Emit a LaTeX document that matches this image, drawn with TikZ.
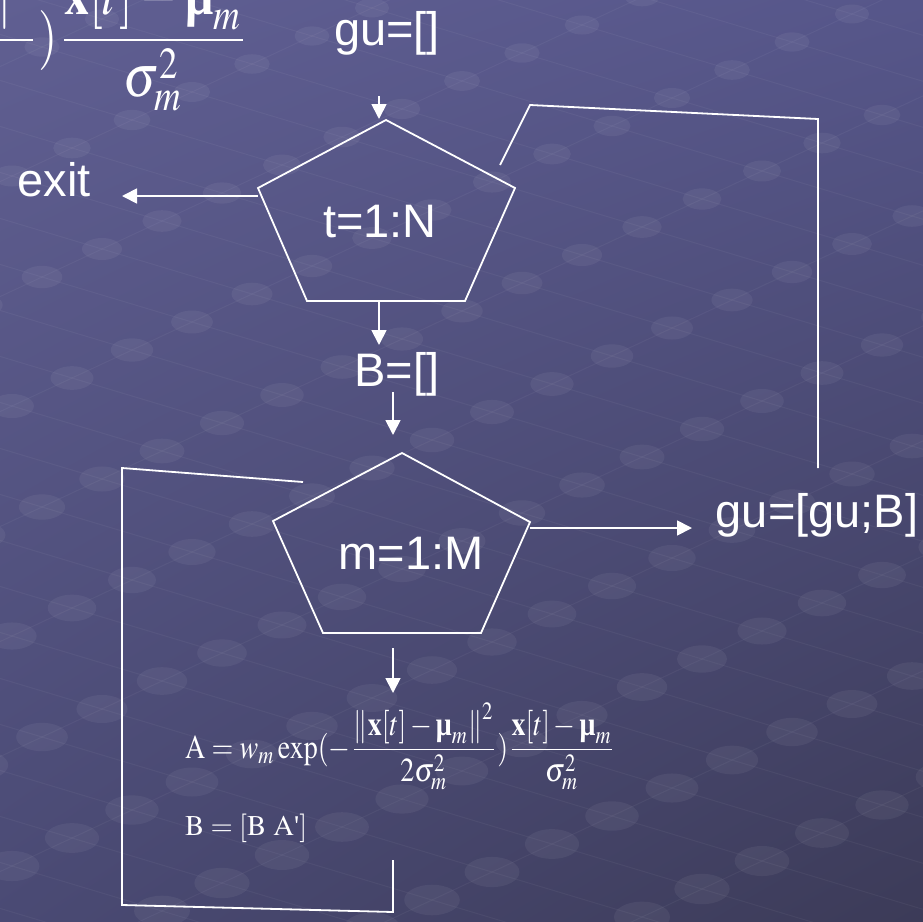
\documentclass[tikz,border=0pt]{standalone}
\usepackage{mathptmx}
\usepackage{fontspec}
\setmainfont{Liberation Serif}
\newfontfamily\labelfont{Liberation Sans}
\usetikzlibrary{arrows.meta,shadings}
\definecolor{bgUL}{HTML}{605F92}
\definecolor{bgUR}{HTML}{56568A}
\definecolor{bgLL}{HTML}{4A4A74}
\definecolor{bgLR}{HTML}{3C3B58}
\newcommand\bmu{\mbox{\normalfont\bfseries μ}}
\newcommand\myformula{$\displaystyle \mathrm{A} = w_m \exp(-\frac{\left\|\mathbf{x}[t]-\bmu_m\right\|^2}{2\sigma_m^2})\frac{\mathbf{x}[t]-\bmu_m}{\sigma_m^2}$}
\tikzset{
  lbl/.style={text=white, font=\labelfont\fontsize{47}{54}\selectfont, inner sep=0pt},
  conn/.style={draw=white, line width=1.8pt, -{Triangle[length=15pt,width=15pt]}},
  loopline/.style={draw=white, line width=1.8pt},
  pent/.style={draw=white, line width=1.8pt, line join=miter},
  dotbg/.style={fill=white, fill opacity=0.055},
  gridln/.style={draw=white, draw opacity=0.045, line width=1pt}
}
\begin{document}
\begin{tikzpicture}[x=1pt,y=-1pt]
\useasboundingbox (0,0) rectangle (923,921);
\clip (0,0) rectangle (923,921);
\shade[upper left=bgUL, upper right=bgUR, lower left=bgLL, lower right=bgLR] (0,0) rectangle (923,921);
% background lattice
\foreach \j in {-6,...,24}{
  \draw[gridln] ({822-60*\j-150*8},{143+28*\j-45*8}) -- ({822-60*\j+150*8},{143+28*\j+45*8});
}
\foreach \i in {-8,...,6}{
  \draw[gridln] ({822+150*\i+60*10},{143+45*\i-28*10}) -- ({822+150*\i-60*26},{143+45*\i+28*26});
}
\foreach \i in {-8,...,6}{
  \foreach \j in {-6,...,24}{
    \pgfmathsetmacro\px{822+150*\i-60*\j}
    \pgfmathsetmacro\py{143+45*\i+28*\j}
    \pgfmathsetmacro\rx{17+\py*0.012}
    \fill[dotbg] (\px,\py) ellipse [x radius=\rx pt, y radius=0.55*\rx pt];
  }
}
% top-left cropped formula
\node[anchor=base east, inner sep=0pt, text=white] (ftop) at (249,55) {\resizebox{765pt}{98pt}{\myformula}};
% pentagons
\coordinate (p1t) at (386,120); \coordinate (p1r) at (515,188); \coordinate (p1br) at (465,301);
\coordinate (p1bl) at (307,301); \coordinate (p1l) at (258,188);
\draw[pent] (p1t) -- (p1r) -- (p1br) -- (p1bl) -- (p1l) -- cycle;
\coordinate (p2t) at (402,453); \coordinate (p2r) at (530,522); \coordinate (p2br) at (481,633);
\coordinate (p2bl) at (323,633); \coordinate (p2l) at (273,521);
\draw[pent] (p2t) -- (p2r) -- (p2br) -- (p2bl) -- (p2l) -- cycle;
% labels
\node[lbl, anchor=base] (gu0) at (387,45) {gu=[]};
\node[lbl, anchor=base] (exit) at (54,196) {exit};
\node[lbl, anchor=base] (tloop) at (380,237) {t=1:N};
\node[lbl, anchor=base] (Binit) at (397,386) {B=[]};
\node[lbl, anchor=base] (mloop) at (411,569) {m=1:M};
\node[lbl, anchor=base] (guB) at (817,527) {gu=[gu;B]};
% formula
\node[anchor=base west, inner sep=0pt, text=white] (fA) at (185,758) {\resizebox{430pt}{55pt}{\myformula}};
\node[anchor=base west, inner sep=0pt, text=white] (fB) at (185,835) {\resizebox{122pt}{!}{$\mathrm{B} = [\mathrm{B\ A}\mbox{\textquotesingle}]$}};
% arrows
\coordinate (a1s) at (379,96); \coordinate (a1e) at (379,119);
\draw[conn] (a1s) -- (a1e);
\coordinate (a2s) at (258,196); \coordinate (a2e) at (122,196);
\draw[conn] (a2s) -- (a2e);
\coordinate (a3s) at (379,301); \coordinate (a3e) at (379,345);
\draw[conn] (a3s) -- (a3e);
\coordinate (a4s) at (393,392); \coordinate (a4e) at (393,435);
\draw[conn] (a4s) -- (a4e);
\coordinate (a5s) at (530,528); \coordinate (a5e) at (692,528);
\draw[conn] (a5s) -- (a5e);
\coordinate (a6s) at (393,648); \coordinate (a6e) at (393,693);
\draw[conn] (a6s) -- (a6e);
% loops
\coordinate (l1a) at (393,860); \coordinate (l1b) at (393,912); \coordinate (l1c) at (122,905);
\coordinate (l1d) at (122,468); \coordinate (l1e) at (303,482);
\draw[loopline] (l1a) -- (l1b) -- (l1c) -- (l1d) -- (l1e);
\coordinate (l2a) at (818,468); \coordinate (l2b) at (818,119); \coordinate (l2c) at (530,105);
\coordinate (l2d) at (500,165);
\draw[loopline] (l2a) -- (l2b) -- (l2c) -- (l2d);
\end{tikzpicture}
\end{document}
